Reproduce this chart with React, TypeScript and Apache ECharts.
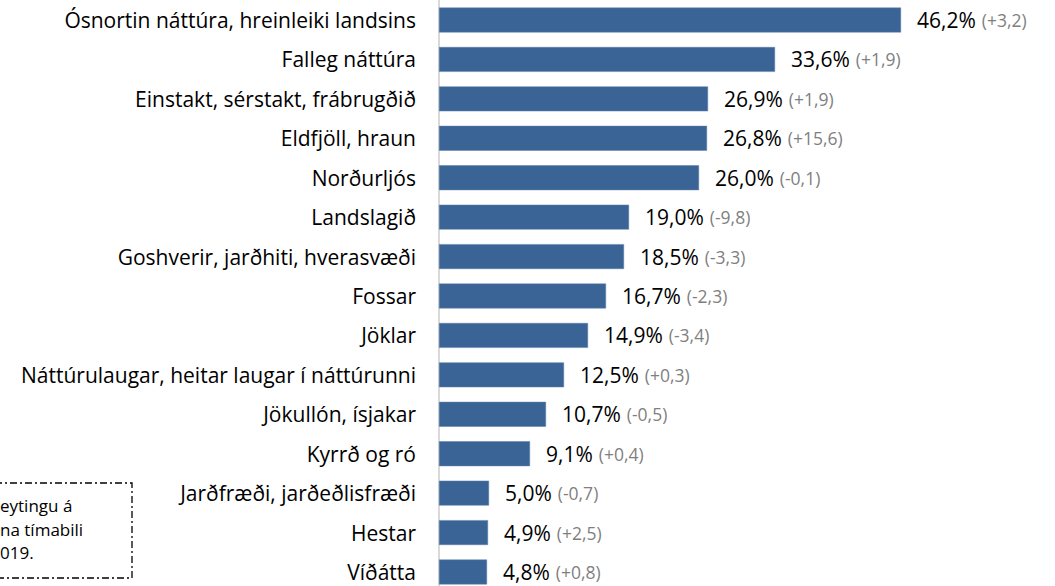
import React, { useEffect, useRef } from "react";
import * as echarts from "echarts";

const categories = [
  "Ósnortin náttúra, hreinleiki landsins",
  "Falleg náttúra",
  "Einstakt, sérstakt, frábrugðið",
  "Eldfjöll, hraun",
  "Norðurljós",
  "Landslagið",
  "Goshverir, jarðhiti, hverasvæði",
  "Fossar",
  "Jöklar",
  "Náttúrulaugar, heitar laugar í náttúrunni",
  "Jökullón, ísjakar",
  "Kyrrð og ró",
  "Jarðfræði, jarðeðlisfræði",
  "Hestar",
  "Víðátta",
];

const values = [46.2, 33.6, 26.9, 26.8, 26.0, 19.0, 18.5, 16.7, 14.9, 12.5, 10.7, 9.1, 5.0, 4.9, 4.8];

const changes = ["+3,2", "+1,9", "+1,9", "+15,6", "-0,1", "-9,8", "-3,3", "-2,3", "-3,4", "+0,3", "-0,5", "+0,4", "-0,7", "+2,5", "+0,8"];

const noteLines = ["eytingu á", "na tímabili", "019."];

export default function App() {
  const ref = useRef<HTMLDivElement>(null);
  useEffect(() => {
    const chart = echarts.init(ref.current!, null, { renderer: "svg" });
    const font = "Open Sans";
    const note = (text: string, y: number) => ({
      type: "text",
      x: 0,
      y,
      style: { text, textAlign: "left", textVerticalAlign: "middle", fontSize: 17, fontFamily: font, fill: "#000" },
    });
    chart.setOption({
      animation: false,
      textStyle: { fontFamily: font },
      grid: { left: 439, right: 0, top: 0.3, height: 591.4, containLabel: false },
      xAxis: {
        type: "value",
        min: 0,
        max: 61.6,
        show: false,
      },
      yAxis: {
        type: "category",
        data: categories,
        inverse: true,
        axisLine: { show: true, lineStyle: { color: "#D9D9D9", width: 2 } },
        axisTick: { show: false },
        axisLabel: { color: "#000", fontSize: 21, fontFamily: font, margin: 23 },
      },
      series: [
        {
          type: "bar",
          data: values,
          barCategoryGap: "37%",
          itemStyle: { color: "#3A6496", borderColor: "#5A7FAA", borderWidth: 0.5 },
          label: {
            show: true,
            position: "right",
            distance: 16,
            formatter: (p: any) =>
              `{a|${values[p.dataIndex].toFixed(1).replace(".", ",")}%}{b|(${changes[p.dataIndex]})}`,
            rich: {
              a: { fontSize: 21, color: "#000", fontFamily: font, padding: [0, 6, 0, 0] },
              b: { fontSize: 17.5, color: "#7F7F7F", fontFamily: font },
            },
          },
        },
      ],
      graphic: [
        {
          type: "rect",
          shape: { x: -20, y: 483, width: 152, height: 95 },
          style: { fill: "none", stroke: "#000", lineWidth: 1.3, lineDash: [7, 3, 2, 3] },
        },
        note(noteLines[0], 505),
        note(noteLines[1], 529),
        note(noteLines[2], 552),
      ],
    });
    return () => chart.dispose();
  }, []);
  return (
    <div
      ref={ref}
      style={{ position: "fixed", left: 0, top: 0, width: 1055, height: 592, background: "#fff" }}
    />
  );
}
